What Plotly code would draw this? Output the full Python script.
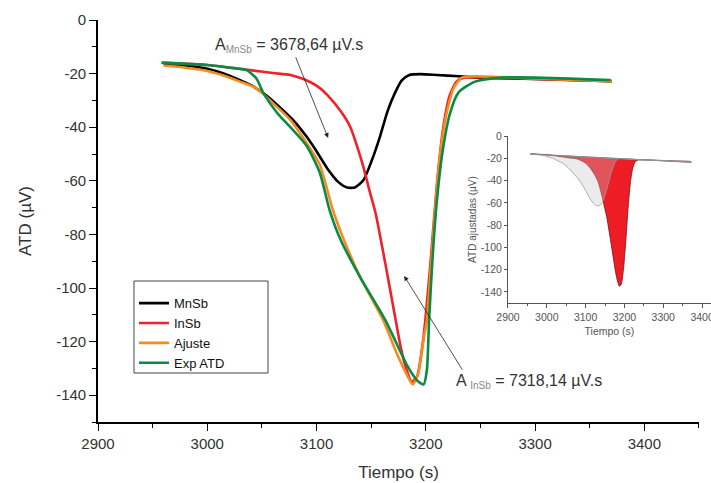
import plotly.graph_objects as go

# ---------------- data ----------------
mnsb_x = [2960, 2980, 3000, 3015, 3030, 3040, 3055, 3069, 3080, 3091, 3100, 3110, 3120, 3128,
          3135, 3143, 3150, 3158, 3165, 3172, 3178, 3185, 3195, 3210, 3230, 3250, 3300, 3370]
mnsb_y = [-16.3, -17.0, -18.2, -20.0, -22.5, -24.3, -28.5, -33.6, -38.0, -43.6, -49.0, -55.5, -60.5, -62.5,
          -62.5, -59.7, -53.0, -43.6, -34.0, -27.0, -22.5, -20.5, -20.2, -20.5, -21.0, -21.5, -22.0, -22.8]

insb_x = [2960, 3000, 3039, 3060, 3076, 3088, 3100, 3110, 3122, 3131, 3137, 3143, 3148, 3154, 3163, 3172, 3177, 3182,
          3187, 3192, 3198, 3204, 3210, 3216, 3222, 3228, 3235, 3260, 3300, 3370]
insb_y = [-16.0, -16.8, -18.7, -19.8, -20.5, -22.0, -24.5, -28.0, -34.0, -40.0, -47.0, -55.0, -63.0, -72.0, -91.0, -111.0, -122.0, -130.0,
          -135.0, -133.0, -118.0, -92.0, -62.0, -40.0, -28.0, -23.0, -21.5, -21.5, -22.0, -22.8]

ajuste_x = [2960, 2980, 3000, 3014, 3030, 3045, 3060, 3076, 3091, 3103, 3115, 3125, 3140, 3161, 3173,
            3181, 3188, 3193, 3198, 3201, 3205, 3209, 3214, 3220, 3226, 3233, 3245, 3300, 3370]
ajuste_y = [-17.0, -17.8, -19.0, -20.6, -23.0, -25.5, -31.0, -37.3, -46.0, -54.0, -71.0, -82.0, -96.0, -112.0, -124.0,
            -131.0, -136.0, -132.0, -119.0, -112.0, -90.0, -68.0, -47.0, -33.0, -25.0, -21.5, -21.0, -21.8, -22.8]

exp_x = [2958, 3000, 3020, 3036, 3045, 3051, 3064, 3076, 3091, 3103, 3112, 3122, 3140, 3163, 3183,
         3192, 3198, 3201, 3203, 3206, 3210, 3215, 3222, 3230, 3245, 3270, 3300, 3369]
exp_y = [-15.9, -16.8, -17.7, -18.7, -21.8, -27.0, -34.7, -40.0, -47.0, -57.0, -71.0, -82.0, -96.0, -112.0, -129.0,
         -134.5, -136.0, -130.6, -112.0, -90.0, -68.0, -50.0, -35.0, -27.0, -23.0, -21.5, -21.5, -22.4]

base_x = [2957, 3050, 3150, 3230, 3300, 3373]
base_y = [-16.2, -17.8, -19.6, -21.2, -22.4, -23.6]

area_mnsb = "3678,64"
area_insb = "7318,14"

series_names = ["MnSb", "InSb", "Ajuste", "Exp ATD"]
series_colors = ["#000000", "#ee2229", "#f68b1f", "#0a8a43"]

x_ticks_main = [2900, 3000, 3100, 3200, 3300, 3400]
y_ticks = [0, -20, -40, -60, -80, -100, -120, -140]
y_tick_text = ["0", "-20", "-40", "-60", "-80", "-100", "-120", "-140"]

# ---------------- figure ----------------
fig = go.Figure()

for name, xs, ys, col in zip(series_names,
                             [mnsb_x, insb_x, ajuste_x, exp_x],
                             [mnsb_y, insb_y, ajuste_y, exp_y],
                             series_colors):
    fig.add_trace(go.Scatter(x=xs, y=ys, mode="lines", name=name,
                             line=dict(color=col, width=2.6, shape="spline", smoothing=0.6),
                             xaxis="x", yaxis="y"))

# inset: InSb area (red, opaque) then MnSb area (translucent grey on top)
fig.add_trace(go.Scatter(x=base_x, y=base_y, mode="lines", line=dict(color="#8a8a8a", width=1),
                         showlegend=False, xaxis="x2", yaxis="y2"))
fig.add_trace(go.Scatter(x=insb_x, y=insb_y, mode="lines", fill="tonexty", fillcolor="#ee1c25",
                         line=dict(color="#7a1010", width=0.8, shape="spline", smoothing=0.6),
                         showlegend=False, xaxis="x2", yaxis="y2"))
fig.add_trace(go.Scatter(x=base_x, y=base_y, mode="lines", line=dict(color="#8a8a8a", width=1),
                         showlegend=False, xaxis="x2", yaxis="y2"))
fig.add_trace(go.Scatter(x=mnsb_x, y=mnsb_y, mode="lines", fill="tonexty",
                         fillcolor="rgba(196,196,196,0.34)",
                         line=dict(color="#9a9a9a", width=0.8, shape="spline", smoothing=0.6),
                         showlegend=False, xaxis="x2", yaxis="y2"))

FONT = "Liberation Sans, Arial, sans-serif"
tick_font = dict(family=FONT, size=15, color="#333333")

fig.update_layout(
    width=711, height=483,
    margin=dict(l=98, r=0, t=20, b=61, autoexpand=False),
    paper_bgcolor="white", plot_bgcolor="white",
    font=dict(family=FONT, color="#333333"),
    showlegend=True,
    legend=dict(x=0.0587, y=0.333, xanchor="left", yanchor="top", traceorder="normal",
                bgcolor="rgba(0,0,0,0)", borderwidth=0,
                font=dict(family=FONT, size=13, color="#111111"), tracegroupgap=0,
                itemwidth=30),
    xaxis=dict(domain=[0, 0.9804], range=[2900, 3450], tickvals=x_ticks_main, automargin=False,
               showline=True, linecolor="black", linewidth=1.6, ticks="outside",
               ticklen=7, tickwidth=1.4, tickcolor="black", showgrid=False, zeroline=False,
               tickfont=tick_font, minor=dict(dtick=50, ticks="outside", ticklen=4, tickcolor="black", tickwidth=1.2),
               title=dict(text="Tiempo (s)", font=dict(family=FONT, size=17, color="#333333"), standoff=15)),
    yaxis=dict(domain=[0, 1], range=[-150, 0], tickvals=y_ticks, ticktext=y_tick_text, automargin=False,
               showline=True, linecolor="black", linewidth=1.6, ticks="outside",
               ticklen=7, tickwidth=1.4, tickcolor="black", showgrid=False, zeroline=False,
               tickfont=tick_font, minor=dict(dtick=10, ticks="outside", ticklen=4, tickcolor="black", tickwidth=1.2),
               title=dict(text="ATD (µV)", font=dict(family=FONT, size=17, color="#333333"), standoff=20)),
    xaxis2=dict(domain=[0.6688, 1.0], range=[2900, 3423], tickvals=x_ticks_main, anchor="y2", automargin=False,
                showline=True, linecolor="#555555", linewidth=1, ticks="outside", ticklen=4,
                tickcolor="#555555", showgrid=False, zeroline=False, ticklabeloverflow="allow",
                tickfont=dict(family=FONT, size=10.5, color="#555555"),
                minor=dict(dtick=50, ticks="outside", ticklen=2, tickcolor="#555555"),
                title=dict(text="Tiempo (s)", font=dict(family=FONT, size=10.5, color="#555555"), standoff=6)),
    yaxis2=dict(domain=[0.296, 0.7114], range=[-150, 0], tickvals=y_ticks, ticktext=y_tick_text, anchor="x2",
                automargin=False,
                showline=True, linecolor="#555555", linewidth=1, ticks="outside", ticklen=3,
                tickcolor="#555555", showgrid=False, zeroline=False,
                tickfont=dict(family=FONT, size=10.5, color="#555555"),
                title=dict(text="ATD ajustadas (µV)", font=dict(family=FONT, size=10, color="#555555"), standoff=2)),
)

# legend frame
fig.add_shape(type="rect", xref="paper", yref="paper", x0=0.0587, x1=0.2773, y0=0.1219, y1=0.3507,
              line=dict(color="#444444", width=1), fillcolor="rgba(0,0,0,0)", layer="below")

fig.add_annotation(x=3005, y=-9.5, xref="x", yref="y", xanchor="left", yanchor="middle",
                   text="A<sub><span style='color:#8a8a8a;font-size:10px'>MnSb</span></sub> = " + area_mnsb + " µV.s",
                   showarrow=False, font=dict(family=FONT, size=16, color="#333333"))
fig.add_annotation(x=3226, y=-135, xref="x", yref="y", xanchor="left", yanchor="middle",
                   text="A <sub><span style='color:#8a8a8a;font-size:10px'>InSb</span></sub> = " + area_insb + " µV.s",
                   showarrow=False, font=dict(family=FONT, size=16, color="#333333"))
fig.add_annotation(x=3110.6, y=-44, ax=3080.4, ay=-13.4, xref="x", yref="y", axref="x", ayref="y",
                   text="", showarrow=True, arrowhead=2, arrowsize=1.2, arrowwidth=0.8, arrowcolor="#222222")
fig.add_annotation(x=3180.2, y=-95.5, ax=3234.2, ay=-131, xref="x", yref="y", axref="x", ayref="y",
                   text="", showarrow=True, arrowhead=2, arrowsize=1.2, arrowwidth=0.8, arrowcolor="#222222")

fig.write_html("out.html", config={"displayModeBar": False},
               post_script="document.body.style.margin='0';document.body.style.overflow='hidden';")
